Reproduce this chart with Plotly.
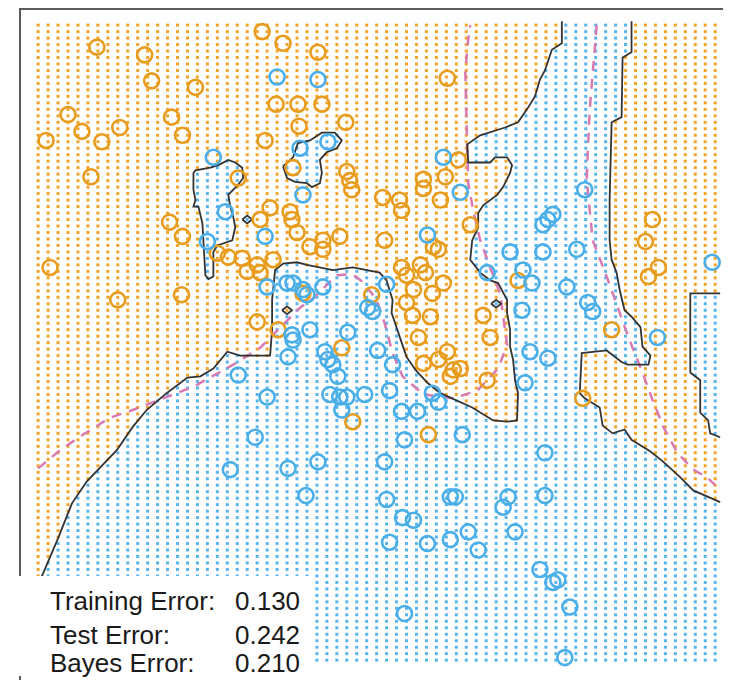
import numpy as np
import plotly.graph_objects as go

# ---------------- data (in data units) ----------------
# prediction grid (ESL mixture example style): 69 x 99 lattice
GRID_X_START, GRID_X_STEP, GRID_X_N = -2.6, 0.1, 69
GRID_Y_START, GRID_Y_STEP, GRID_Y_N = -2.0, 0.05, 99

# training points, class "orange"
orange_x = [-2.01, -1.53, -1.46, -1.02, -0.35, -0.14, 0.21, 1.51,
            -2.30, -2.16, -1.78, -1.96, -2.52, -1.26, -1.15, -2.07,
            -0.59, -0.04, 0.50, 0.53, 0.55,
            -0.27, -0.37, -0.07, -0.05, -1.15, -1.28, 0.00,
            0.13, 0.26, 0.26, 0.43,
            -0.80, -0.69, -0.55, -0.50, -0.40, -0.37, -0.24,
            0.06, 0.75, -2.48, -1.80, -1.16,
            1.62, 1.49, 1.27, 1.27, 0.86, 1.03, 1.05, 1.44, 1.74,
            0.88, 1.37, 1.42,
            1.05, 1.10, 1.24, 1.29,
            1.17, 1.36, 1.47, 1.10, 1.16, 1.34,
            2.22, -0.40, -0.19, 0.45, 0.56,
            1.87, 1.22, 1.94,
            1.27, 1.42, 1.51, 1.57, 1.64, 1.54,
            1.91, 2.87, 1.32,
            3.50, 3.63, 3.53, 3.16, 3.57,
            -0.21, 0.01, 0.25, 0.02, 0.49, -0.32]
orange_y = [2.73, 2.67, 2.47, 2.42, 2.85, 2.76, 2.69, 2.49,
            2.21, 2.08, 2.11, 2.00, 2.01, 2.19, 2.05, 1.73,
            1.72, 1.80, 1.77, 1.70, 1.63,
            1.49, 1.40, 1.46, 1.40, 1.27, 1.38, 1.30,
            1.19, 1.24, 1.17, 1.27,
            1.14, 1.11, 1.10, 1.00, 1.05, 0.99, 1.09,
            0.83, 0.82, 1.03, 0.78, 0.82,
            1.86, 1.73, 1.71, 1.64, 1.57, 1.55, 1.47, 1.55, 1.36,
            1.24, 1.19, 1.17,
            1.03, 0.97, 1.05, 0.99,
            0.86, 0.83, 0.91, 0.76, 0.66, 0.65,
            0.93, 0.61, 0.55, 0.41, -0.16,
            0.66, 0.49, 0.49,
            0.29, 0.32, 0.38, 0.24, 0.25, 0.19,
            0.16, 0.02, -0.26,
            1.23, 1.03, 0.96, 0.55, 1.40,
            2.29, 2.29, 2.29, 2.12, 2.15, 2.01]

# training points, class "blue"
blue_x = [-0.20, 0.21, -0.84, 0.03, 0.31, 0.06, -0.72, -0.90, -0.32,
          -0.30, -0.10, -0.04, 0.06, 0.10, 0.26,
          1.47, 1.64, 2.47, 2.52, 2.57, 2.89, 1.31,
          2.14, 2.47, 2.81, 0.90, 1.91, 2.27, 2.36, 2.71,
          0.71, 0.76, -0.05, -0.04, 0.13, 0.51, 0.28, 0.31, 0.81,
          -0.09, -0.59, 0.36, 0.41, 0.96, 0.33, 0.43, 0.50, -0.30,
          0.68, 0.93, 0.45, -0.42,
          2.92, 2.97, 2.26, 2.34, 2.52, 2.29, 1.36, 1.42, 1.05, 1.21,
          1.66, 1.08, 1.54, 1.59, 2.12, 2.07, 2.49, 1.06, 1.17,
          1.31, 1.54, 1.72, 1.82, 2.19, 2.44, 2.57, 2.62, 2.74, 1.08, 2.69,
          4.17, 3.62, -0.67, -0.09, 0.21, 0.09, 0.88, 0.90, 0.93, 2.49]
blue_y = [2.50, 2.48, 1.88, 1.95, 2.00, 1.59, 1.46, 1.23, 1.27,
          0.88, 0.91, 0.91, 0.86, 0.82, 0.88,
          1.88, 1.61, 1.36, 1.40, 1.44, 1.63, 1.28,
          1.15, 1.15, 1.17, 0.90, 0.99, 1.01, 0.91, 0.88,
          0.72, 0.69, 0.51, 0.47, 0.55, 0.53, 0.38, 0.32, 0.39,
          0.34, 0.20, 0.28, 0.19, 0.28, 0.05, 0.03, 0.03, 0.03,
          0.05, 0.08, -0.07, -0.28,
          0.76, 0.69, 0.70, 0.38, 0.33, 0.14, 0.06, -0.01, -0.08, -0.08,
          -0.26, -0.30, -0.74, -0.74, -0.74, -0.82, -0.73, -0.90, -0.92,
          -1.10, -1.07, -1.01, -1.15, -1.01, -1.30, -1.40, -1.38, -1.59, -1.64, -1.98,
          1.07, 0.49, -0.53, -0.52, -0.47, -0.73, -0.47, -0.76, -1.09, -0.40]

# fitted decision boundary (black), main curve: bottom-left -> top
bnd_main_x = [-2.65, -2.60, -2.55, -2.40, -2.26, -2.11, -1.81, -1.65, -1.51, -1.31, -1.10, -0.97,
              -0.84, -0.70, -0.57, -0.27, -0.25, -0.25, -0.22, -0.14, 0.00, 0.10, 0.36, 0.56,
              0.70, 0.83, 0.90, 0.96, 0.95, 1.03, 1.10, 1.19, 1.31, 1.44, 1.59, 1.76, 1.97,
              2.11, 2.21, 2.22, 2.19, 2.17, 2.14, 2.14, 2.11, 2.11, 2.02, 1.94, 1.84, 1.74,
              1.76, 1.82, 1.82, 1.87, 2.01, 2.07, 2.14, 2.16, 2.11, 1.99, 1.94, 1.72, 1.71,
              1.84, 2.09, 2.22, 2.31, 2.39, 2.44, 2.49, 2.56, 2.66, 2.66]
bnd_main_y = [-1.50, -1.42, -1.33, -1.06, -0.79, -0.62, -0.38, -0.20, -0.07, 0.06, 0.18, 0.19,
              0.25, 0.38, 0.35, 0.35, 0.55, 0.78, 1.01, 1.06, 1.07, 1.05, 1.01, 1.03,
              1.01, 0.99, 0.93, 0.78, 0.68, 0.49, 0.34, 0.24, 0.14, 0.06, 0.01, -0.05, -0.15,
              -0.16, -0.15, 0.06, 0.16, 0.32, 0.42, 0.55, 0.68, 0.78, 0.91, 0.93, 0.99, 1.09,
              1.24, 1.34, 1.45, 1.51, 1.59, 1.65, 1.76, 1.82, 1.88, 1.88, 1.84, 1.84, 1.98,
              2.05, 2.11, 2.15, 2.25, 2.35, 2.48, 2.55, 2.71, 2.76, 2.93]
# right curve: top -> right edge
bnd_right_x = [3.36, 3.36, 3.27, 3.26, 3.16, 3.14, 3.14, 3.16, 3.21, 3.24, 3.29, 3.36, 3.45,
               3.47, 3.55, 3.53, 3.32, 3.26, 3.11, 2.86, 2.84, 2.89, 3.04, 3.07, 3.17, 3.29,
               3.36, 3.55, 3.68, 3.85, 3.98, 4.18, 4.25]
bnd_right_y = [2.93, 2.69, 2.65, 2.19, 2.15, 1.55, 1.24, 1.09, 0.99, 0.86, 0.70, 0.65, 0.57,
               0.42, 0.35, 0.28, 0.28, 0.30, 0.39, 0.37, 0.06, 0.02, -0.05, -0.19, -0.25, -0.22,
               -0.30, -0.39, -0.47, -0.59, -0.69, -0.76, -0.78]
# blue pocket on the right edge
bnd_edge_x = [4.25, 3.95, 3.95, 4.05, 4.05, 4.13, 4.15, 4.25]
bnd_edge_y = [0.83, 0.83, 0.22, 0.16, -0.09, -0.15, -0.25, -0.28]
# blue island, left
isl_left_x = [-1.04, -1.02, -0.87, -0.79, -0.69, -0.62, -0.55, -0.54, -0.59, -0.69, -0.67, -0.64,
              -0.62, -0.65, -0.80, -0.84, -0.84, -0.89, -0.92, -0.94, -0.95, -0.99, -1.04, -1.02,
              -1.04, -1.04]
isl_left_y = [1.76, 1.78, 1.80, 1.82, 1.86, 1.84, 1.80, 1.72, 1.67, 1.59, 1.50, 1.42,
              1.34, 1.24, 1.20, 1.15, 0.96, 0.94, 0.97, 1.24, 1.37, 1.50, 1.50, 1.55,
              1.63, 1.76]
# blue island, middle
isl_mid_x = [-0.14, -0.10, -0.04, 0.01, 0.13, 0.25, 0.38, 0.45, 0.40, 0.30, 0.23, 0.25, 0.23,
             0.15, 0.10, -0.02, -0.10, -0.14]
isl_mid_y = [1.81, 1.84, 1.88, 1.99, 2.01, 2.07, 2.07, 2.01, 1.95, 1.92, 1.86, 1.76, 1.68,
             1.65, 1.68, 1.69, 1.72, 1.81]
# single-cell islands (centre of flipped grid cell)
tiny_x = [-0.5, -0.1, 2.0]
tiny_y = [1.4, 0.7, 0.75]

# Bayes decision boundary (dashed)
bayes1_x = [-2.60, -2.38, -2.15, -1.88, -1.65, -1.48, -1.25, -1.04, -0.64, -0.37, -0.19, 0.03,
            0.16, 0.40, 0.55, 0.66, 0.80, 0.88, 0.96, 1.06, 1.27, 1.57, 1.81, 2.02, 2.11, 2.07,
            2.04, 1.94, 1.84, 1.77, 1.72, 1.71, 1.70, 1.69, 1.72, 1.74]
bayes1_y = [-0.52, -0.38, -0.26, -0.13, -0.07, -0.02, 0.05, 0.11, 0.28, 0.41, 0.55, 0.72,
            0.79, 0.97, 0.98, 0.92, 0.78, 0.60, 0.37, 0.19, 0.05, 0.02, 0.08, 0.25, 0.43, 0.65,
            0.83, 1.03, 1.24, 1.47, 1.68, 1.94, 2.25, 2.55, 2.79, 2.90]
bayes2_x = [3.01, 2.97, 2.94, 2.92, 2.91, 2.94, 2.97, 3.11, 3.22, 3.34, 3.47, 3.57, 3.68, 3.82,
            3.98, 4.12, 4.20]
bayes2_y = [2.90, 2.50, 2.25, 1.91, 1.71, 1.47, 1.24, 0.96, 0.73, 0.47, 0.22, 0.01, -0.20, -0.40,
            -0.53, -0.59, -0.65]

error_labels = ["Training Error:", "Test Error:", "Bayes Error:"]
error_values = ["0.130", "0.242", "0.210"]

# ---------------- colours / styles ----------------
ORANGE_DOT = "#F2A42A"
BLUE_DOT = "#58B4EC"
ORANGE_PT = "#E89C1E"
BLUE_PT = "#4AAEE8"
BAYES_COL = "#D97BB2"
BOUND_COL = "#333333"

# ---------------- classification of grid by region polygons (even-odd) ----------------
gx = np.round(GRID_X_START + GRID_X_STEP * np.arange(GRID_X_N), 3)
gy = np.round(GRID_Y_START + GRID_Y_STEP * np.arange(GRID_Y_N), 3)
GX, GY = np.meshgrid(gx, gy)
PX, PY = GX.ravel(), GY.ravel()


def inside(px, py, vx, vy):
    vx = np.asarray(vx, float)
    vy = np.asarray(vy, float)
    c = np.zeros(px.shape, bool)
    j = len(vx) - 1
    for i in range(len(vx)):
        xi, yi, xj, yj = vx[i], vy[i], vx[j], vy[j]
        if yi != yj:
            cond = ((yi > py) != (yj > py)) & (px < (xj - xi) * (py - yi) / (yj - yi) + xi)
            c ^= cond
        j = i
    return c


lo_x, hi_x = gx.min() - 0.2, gx.max() + 0.2
lo_y = gy.min() - 0.2
main_poly_x = bnd_main_x + bnd_right_x + [hi_x, hi_x, lo_x, lo_x]
main_poly_y = bnd_main_y + bnd_right_y + [bnd_right_y[-1], lo_y, lo_y, bnd_main_y[0]]
edge_poly_x = bnd_edge_x + [hi_x, hi_x]
edge_poly_y = bnd_edge_y + [bnd_edge_y[-1], bnd_edge_y[0]]

tiny_polys = []
for tx, ty in zip(tiny_x, tiny_y):
    hx, hy = GRID_X_STEP * 0.5, GRID_Y_STEP * 0.6
    tiny_polys.append(([tx - hx, tx, tx + hx, tx, tx - hx], [ty, ty + hy, ty, ty - hy, ty]))

is_blue = np.zeros(PX.shape, bool)
for vx, vy in [(main_poly_x, main_poly_y), (edge_poly_x, edge_poly_y),
               (isl_left_x, isl_left_y), (isl_mid_x, isl_mid_y)] + tiny_polys:
    is_blue ^= inside(PX, PY, vx, vy)

# ---------------- figure ----------------
fig = go.Figure()
fig.add_trace(go.Scatter(x=PX[~is_blue], y=PY[~is_blue], mode="markers",
                         marker=dict(symbol="square", size=3, color=ORANGE_DOT, line=dict(width=0)),
                         hoverinfo="skip", showlegend=False))
fig.add_trace(go.Scatter(x=PX[is_blue], y=PY[is_blue], mode="markers",
                         marker=dict(symbol="square", size=3, color=BLUE_DOT, line=dict(width=0)),
                         hoverinfo="skip", showlegend=False))

for bx, by in [(bayes1_x, bayes1_y), (bayes2_x, bayes2_y)]:
    fig.add_trace(go.Scatter(x=bx, y=by, mode="lines",
                             line=dict(color=BAYES_COL, width=2.5, dash="10px,8px"),
                             hoverinfo="skip", showlegend=False))

lines = [(bnd_main_x, bnd_main_y), (bnd_right_x, bnd_right_y), (bnd_edge_x, bnd_edge_y),
         (isl_left_x, isl_left_y), (isl_mid_x, isl_mid_y)] + tiny_polys
for bx, by in lines:
    fig.add_trace(go.Scatter(x=bx, y=by, mode="lines",
                             line=dict(color=BOUND_COL, width=1.8),
                             hoverinfo="skip", showlegend=False))

fig.add_trace(go.Scatter(x=orange_x, y=orange_y, mode="markers",
                         marker=dict(symbol="circle-open", size=15, color=ORANGE_PT, line=dict(width=2.6)),
                         showlegend=False))
fig.add_trace(go.Scatter(x=blue_x, y=blue_y, mode="markers",
                         marker=dict(symbol="circle-open", size=15, color=BLUE_PT, line=dict(width=2.6)),
                         showlegend=False))

# The page body has an 8px margin: the figure sits at page (8, 8).
W, H = 723, 672
# frame (left + top) and the white label box
fig.add_shape(type="line", xref="paper", yref="paper", x0=0, x1=0, y0=0, y1=1,
              line=dict(color="#5a5a5a", width=2), layer="above")
fig.add_shape(type="line", xref="paper", yref="paper", x0=0, x1=1, y0=1 - 1.0 / H, y1=1 - 1.0 / H,
              line=dict(color="#5a5a5a", width=2), layer="above")
fig.add_shape(type="rect", xref="paper", yref="paper", x0=-0.03, x1=0.412, y0=0.006, y1=0.1548,
              fillcolor="white", line=dict(width=0), layer="above")

label_y = [0.1183, 0.0677, 0.0260]
for lab, val, yy in zip(error_labels, error_values, label_y):
    fig.add_annotation(text=lab, xref="paper", yref="paper", x=0.0394, y=yy,
                       xanchor="left", yanchor="middle", showarrow=False,
                       font=dict(family="Liberation Sans, Arial", size=26, color="#1a1a1a"))
    fig.add_annotation(text=val, xref="paper", yref="paper", x=0.2996, y=yy,
                       xanchor="left", yanchor="middle", showarrow=False,
                       font=dict(family="Liberation Sans, Arial", size=26, color="#1a1a1a"))

fig.update_xaxes(range=[-2.782, 4.359], visible=False, fixedrange=True)
fig.update_yaxes(range=[-2.153, 3.032], visible=False, fixedrange=True)
fig.update_layout(width=W, height=H, autosize=False,
                  margin=dict(l=12, r=0, t=0, b=0, pad=0),
                  paper_bgcolor="white", plot_bgcolor="white")

fig.write_html("out.html")
